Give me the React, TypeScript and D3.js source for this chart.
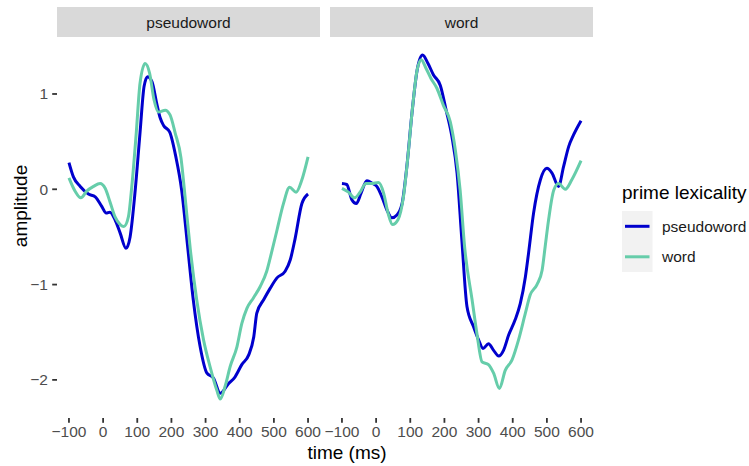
import React, { useRef, useEffect } from "react";
import * as d3 from "d3";

// target lexicality panels and prime lexicality series
const panels = ["pseudoword", "word"];
const primes = ["pseudoword", "word"];
const primeColors = ["#0000CD", "#66CDAA"];

const xTicks = [-100, 0, 100, 200, 300, 400, 500, 600];
const yTicks = [-2, -1, 0, 1];

// [time (ms), amplitude]
const pwTargetPwPrime: [number, number][] = [
  [-100, 0.28], [-87, 0.13], [-67, 0.03], [-43, -0.05], [-23, -0.08], [-4, -0.18],
  [9, -0.25], [20, -0.24], [35, -0.32], [50, -0.46], [67, -0.62], [79, -0.5],
  [94, -0.01], [108, 0.59], [120, 1.08], [130, 1.18], [143, 1.13], [157, 0.9],
  [167, 0.75], [177, 0.67], [195, 0.6], [213, 0.34], [230, -0.01], [248, -0.62],
  [264, -1.16], [284, -1.65], [304, -1.93], [323, -1.98], [343, -2.14], [367, -2.04],
  [386, -1.97], [406, -1.84], [426, -1.74], [441, -1.55], [450, -1.3], [470, -1.16],
  [489, -1.04], [509, -0.93], [533, -0.86], [548, -0.74], [562, -0.52], [582, -0.15],
  [600, -0.05],
];

const pwTargetWPrime: [number, number][] = [
  [-100, 0.12], [-82, -0.02], [-65, -0.09], [-48, -0.02], [-28, 0.03], [-9, 0.06],
  [6, 0.01], [20, -0.13], [35, -0.29], [50, -0.37], [61, -0.39], [74, -0.29],
  [84, 0.03], [97, 0.59], [108, 1.11], [123, 1.32], [136, 1.22], [149, 0.94],
  [162, 0.81], [182, 0.83], [196, 0.78], [211, 0.59], [228, 0.33], [240, -0.08],
  [255, -0.62], [274, -1.16], [294, -1.58], [313, -1.86], [333, -2.11], [343, -2.2],
  [357, -2.07], [372, -1.86], [392, -1.65], [406, -1.41], [421, -1.25], [440, -1.14],
  [460, -1.02], [479, -0.86], [492, -0.68], [509, -0.43], [528, -0.15], [546, 0.02],
  [565, -0.03], [582, 0.1], [600, 0.34],
];

const wTargetPwPrime: [number, number][] = [
  [-100, 0.06], [-86, 0.05], [-71, -0.11], [-58, -0.15], [-44, -0.04], [-27, 0.09],
  [-10, 0.06], [2, 0.03], [17, -0.08], [32, -0.22], [46, -0.3], [61, -0.27],
  [76, -0.15], [90, 0.24], [105, 0.8], [120, 1.25], [136, 1.41], [152, 1.32],
  [168, 1.2], [188, 1.09], [205, 0.83], [222, 0.55], [237, 0.17], [251, -0.53],
  [266, -1.23], [285, -1.44], [300, -1.58], [313, -1.67], [329, -1.62], [344, -1.69],
  [359, -1.75], [373, -1.69], [388, -1.53], [407, -1.37], [422, -1.2], [437, -0.92],
  [446, -0.68], [461, -0.25], [481, 0.1], [500, 0.22], [515, 0.17], [534, 0.03],
  [549, 0.24], [564, 0.45], [578, 0.57], [600, 0.72],
];

const wTargetWPrime: [number, number][] = [
  [-100, 0.01], [-81, -0.03], [-63, -0.09], [-47, -0.03], [-30, 0.06], [-12, 0.06],
  [7, 0.07], [22, -0.04], [35, -0.25], [48, -0.37], [64, -0.32], [80, -0.08],
  [93, 0.34], [107, 0.87], [120, 1.25], [132, 1.36], [146, 1.27], [161, 1.16],
  [178, 1.06], [197, 0.88], [217, 0.71], [232, 0.41], [246, -0.01], [259, -0.6],
  [281, -1.16], [295, -1.51], [310, -1.81], [329, -1.84], [344, -1.93], [361, -2.09],
  [378, -1.9], [398, -1.79], [417, -1.58], [437, -1.3], [451, -1.11], [471, -1.0],
  [486, -0.85], [495, -0.6], [505, -0.32], [520, -0.01], [534, 0.06], [554, 0.0],
  [573, 0.1], [600, 0.3],
];

const panelData = [
  [pwTargetPwPrime, pwTargetWPrime],
  [wTargetPwPrime, wTargetWPrime],
];

const App = () => {
  const svgRef = useRef<SVGSVGElement>(null);

  useEffect(() => {
    document.body.style.margin = "0";
    const svg = d3.select(svgRef.current);
    svg.selectAll("*").remove();

    const font = "'Liberation Sans', Arial, sans-serif";
    const panelLeft = [57, 330];
    const panelWidth = 263;
    const top = 36.8;
    const bottom = 418;

    const y = d3.scaleLinear().domain([-2.4, 1.6]).range([bottom, top]);

    panels.forEach((name, p) => {
      const x = d3
        .scaleLinear()
        .domain([-135, 635])
        .range([panelLeft[p], panelLeft[p] + panelWidth]);

      // strip
      svg
        .append("rect")
        .attr("x", panelLeft[p])
        .attr("y", 7)
        .attr("width", panelWidth)
        .attr("height", 30)
        .attr("fill", "#d9d9d9");
      svg
        .append("text")
        .attr("x", panelLeft[p] + panelWidth / 2)
        .attr("y", 22)
        .attr("text-anchor", "middle")
        .attr("dominant-baseline", "central")
        .attr("font-family", font)
        .attr("font-size", 15.5)
        .attr("fill", "#1a1a1a")
        .text(name);

      // x axis
      const xAxis = svg.append("g");
      xAxis
        .selectAll("line")
        .data(xTicks)
        .join("line")
        .attr("x1", (d) => x(d))
        .attr("x2", (d) => x(d))
        .attr("y1", bottom)
        .attr("y2", bottom + 4.8)
        .attr("stroke", "#333333")
        .attr("stroke-width", 1.8);
      xAxis
        .selectAll("text")
        .data(xTicks)
        .join("text")
        .attr("x", (d) => x(d))
        .attr("y", 437)
        .attr("text-anchor", "middle")
        .attr("font-family", font)
        .attr("font-size", 15.5)
        .attr("fill", "#4d4d4d")
        .text((d) => d3.format("d")(d));

      // lines
      const line = d3
        .line<[number, number]>()
        .x((d) => x(d[0]))
        .y((d) => y(d[1]))
        .curve(d3.curveMonotoneX);

      panelData[p].forEach((series, s) => {
        svg
          .append("path")
          .datum(series)
          .attr("d", line)
          .attr("fill", "none")
          .attr("stroke", primeColors[s])
          .attr("stroke-width", 3)
          .attr("stroke-linejoin", "round");
      });
    });

    // y axis
    const yAxis = svg.append("g");
    yAxis
      .selectAll("line")
      .data(yTicks)
      .join("line")
      .attr("x1", 52.2)
      .attr("x2", 57)
      .attr("y1", (d) => y(d))
      .attr("y2", (d) => y(d))
      .attr("stroke", "#333333")
      .attr("stroke-width", 1.8);
    yAxis
      .selectAll("text")
      .data(yTicks)
      .join("text")
      .attr("x", 48)
      .attr("y", (d) => y(d))
      .attr("text-anchor", "end")
      .attr("dominant-baseline", "central")
      .attr("font-family", font)
      .attr("font-size", 15.5)
      .attr("fill", "#4d4d4d")
      .text((d) => d3.format("d")(d));

    // axis titles
    svg
      .append("text")
      .attr("x", 347)
      .attr("y", 459)
      .attr("text-anchor", "middle")
      .attr("font-family", font)
      .attr("font-size", 19)
      .attr("fill", "#000")
      .text("time (ms)");
    svg
      .append("text")
      .attr("transform", "translate(27,206) rotate(-90)")
      .attr("text-anchor", "middle")
      .attr("font-family", font)
      .attr("font-size", 19)
      .attr("fill", "#000")
      .text("amplitude");

    // legend
    const legend = svg.append("g").attr("transform", "translate(622, 211)");
    legend
      .append("text")
      .attr("x", 0)
      .attr("y", -12)
      .attr("font-family", font)
      .attr("font-size", 19)
      .attr("fill", "#000")
      .text("prime lexicality");
    legend
      .append("rect")
      .attr("width", 30.5)
      .attr("height", 61)
      .attr("fill", "#f2f2f2");
    legend
      .selectAll("line")
      .data(primes)
      .join("line")
      .attr("x1", 3)
      .attr("x2", 27.5)
      .attr("y1", (_, i) => 15.3 + i * 30.5)
      .attr("y2", (_, i) => 15.3 + i * 30.5)
      .attr("stroke", (_, i) => primeColors[i])
      .attr("stroke-width", 3);
    legend
      .selectAll("text.lab")
      .data(primes)
      .join("text")
      .attr("class", "lab")
      .attr("x", 40)
      .attr("y", (_, i) => 15.3 + i * 30.5)
      .attr("dominant-baseline", "central")
      .attr("font-family", font)
      .attr("font-size", 15.5)
      .attr("fill", "#1a1a1a")
      .text((d) => d);
  }, []);

  return <svg ref={svgRef} width={749} height={466} style={{ display: "block" }}></svg>;
};

export default App;
